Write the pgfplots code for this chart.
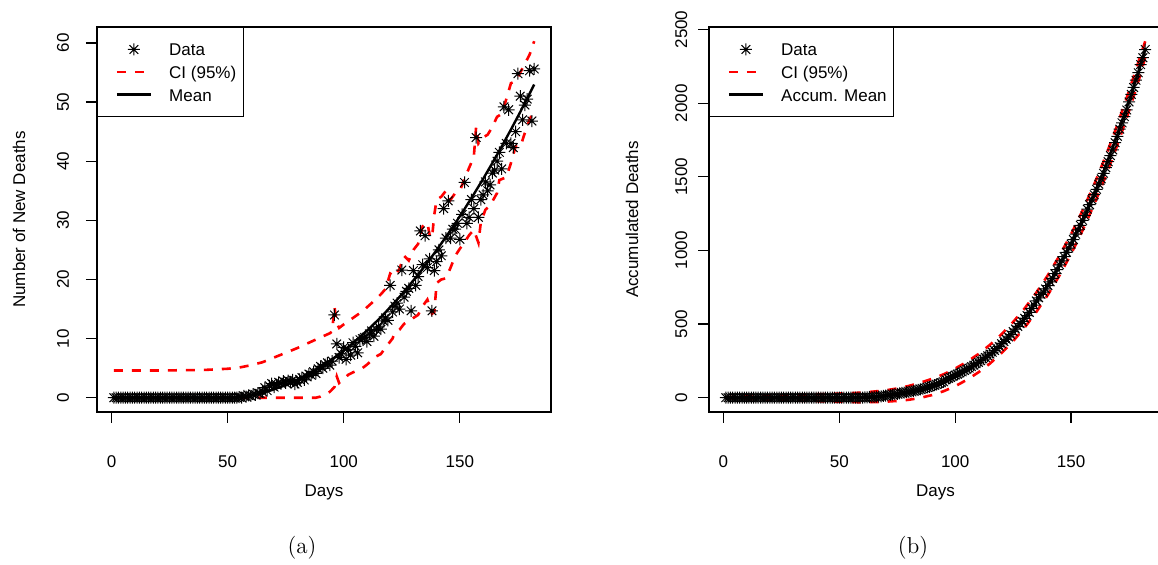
\documentclass[border=0pt]{standalone}
\usepackage{pgfplots}
\pgfplotsset{compat=1.18}
\usepackage{pgfplotstable}
\usepackage{fontspec}
\newfontfamily\rsans{Liberation Sans}
\definecolor{rred}{rgb}{1,0,0}

\pgfdeclareplotmark{rast}{%
  \pgfpathmoveto{\pgfqpoint{-\pgfplotmarksize}{0pt}}\pgfpathlineto{\pgfqpoint{\pgfplotmarksize}{0pt}}%
  \pgfpathmoveto{\pgfqpoint{0pt}{-\pgfplotmarksize}}\pgfpathlineto{\pgfqpoint{0pt}{\pgfplotmarksize}}%
  \pgfpathmoveto{\pgfqpoint{-0.72\pgfplotmarksize}{-0.72\pgfplotmarksize}}\pgfpathlineto{\pgfqpoint{0.72\pgfplotmarksize}{0.72\pgfplotmarksize}}%
  \pgfpathmoveto{\pgfqpoint{-0.72\pgfplotmarksize}{0.72\pgfplotmarksize}}\pgfpathlineto{\pgfqpoint{0.72\pgfplotmarksize}{-0.72\pgfplotmarksize}}%
  \pgfusepathqstroke}

% daily new deaths
\pgfplotstableread{
d v
1 0
2 0
3 0
4 0
5 0
6 0
7 0
8 0
9 0
10 0
11 0
12 0
13 0
14 0
15 0
16 0
17 0
18 0
19 0
20 0
21 0
22 0
23 0
24 0
25 0
26 0
27 0
28 0
29 0
30 0
31 0
32 0
33 0
34 0
35 0
36 0
37 0
38 0
39 0
40 0
41 0
42 0
43 0
44 0
45 0
46 0
47 0
48 0
49 0
50 0
51 0
52 0
53 0
54 0
55 0.1
56 0
57 0.3
58 0.2
59 0.4
60 0.3
61 0.6
62 0.5
63 0.8
64 0.7
65 1.0
66 1.7
67 1.2
68 2.0
69 2.4
70 1.8
71 2.2
72 2.6
73 2.4
74 2.8
75 2.5
76 2.9
77 2.7
78 3.0
79 2.3
80 2.6
81 3.1
82 3.4
83 3.0
84 3.6
85 4.0
86 3.8
87 4.4
88 4.1
89 4.9
90 5.3
91 5.0
92 5.6
93 5.9
94 5.5
95 6.2
96 14.0
97 9.1
98 6.8
99 7.4
100 8.5
101 6.5
102 8.1
103 7.2
104 9.3
105 8.7
106 7.6
107 9.8
108 10.0
109 10.2
110 9.5
111 10.8
112 11.3
113 10.4
114 11.5
115 12.0
116 11.6
117 13.0
118 13.5
119 13.1
120 19.0
121 14.5
122 15.5
123 16.0
124 15.0
125 21.6
126 17.0
127 18.0
128 18.5
129 14.7
130 21.5
131 19.0
132 20.5
133 28.2
134 22.5
135 27.4
136 22.0
137 23.5
138 14.7
139 21.5
140 23.0
141 25.0
142 24.0
143 32.0
144 27.0
145 33.3
146 27.0
147 28.5
148 28.5
149 29.5
150 26.8
151 31.0
152 36.4
153 29.5
154 30.5
155 33.5
156 32.0
157 44.0
158 30.5
159 33.5
160 34.3
161 36.5
162 35.0
163 36.0
164 38.0
165 38.5
166 40.0
167 41.5
168 38.7
169 49.2
170 43.0
171 48.7
172 43.0
173 42.3
174 45.0
175 54.8
176 51.0
177 47.0
178 49.5
179 50.5
180 55.3
181 46.8
182 55.6
}\newdata

\pgfplotstableread{
d v
1 0
48 0
52 0.05
56 0.19
60 0.42
64 0.76
68 1.18
72 1.70
76 2.31
80 3.02
84 3.82
88 4.72
92 5.71
96 6.80
100 7.98
104 9.25
108 10.62
112 12.08
116 13.64
120 15.29
124 17.04
128 18.88
132 20.82
136 22.84
140 24.97
144 27.19
148 29.50
152 31.91
156 34.41
160 37.00
164 39.70
168 42.48
172 45.36
176 48.33
180 51.40
182 52.97
}\newmean

\pgfplotstableread{
d v
1 4.6
20 4.6
40 4.7
50 4.9
55 5.1
60 5.5
65 6.0
70 6.8
75 7.6
80 8.4
85 9.3
90 10.2
94 10.9
95 11.2
96 15.4
97 12.6
98 11.8
100 12.4
104 13.5
108 14.6
112 16.0
116 17.5
118 18.4
120 21.0
122 20.5
124 21.8
126 24.0
128 23.2
130 25.0
132 26.0
134 29.0
136 29.6
137 27.5
138 27.0
139 31.0
140 33.5
142 34.0
144 35.0
146 33.5
148 34.6
150 35.0
152 37.0
154 38.9
156 40.7
157 45.8
158 43.0
160 44.0
162 44.5
164 45.8
166 47.5
168 48.0
170 50.5
172 53.2
174 53.5
176 55.0
178 56.5
180 58.0
182 60.3
}\newupper

\pgfplotstableread{
d v
1 0
88 0
90 0.2
92 0.6
94 1.0
95 1.4
96 1.8
97 3.6
98 2.5
100 3.2
102 3.9
104 4.3
106 4.6
108 5.0
110 5.6
112 6.3
114 7.0
116 7.4
118 8.5
120 9.5
121 10.0
122 11.0
124 11.5
126 12.5
128 13.0
130 13.5
132 14.0
134 15.5
136 16.6
138 14.2
139 14.5
140 19.4
142 20.0
144 20.2
146 22.0
148 24.0
150 25.2
152 26.3
154 27.5
156 28.4
158 26.2
159 29.6
161 31.8
163 32.5
166 34.6
167 36.8
170 37.3
172 39.7
174 42.5
176 42.4
178 44.8
180 47.0
182 48.7
}\newlower

% accumulated deaths
\pgfplotstableread{
d v
1 0
2 0
3 0
4 0
5 0
6 0
7 0
8 0
9 0
10 0
11 0
12 0
13 0
14 0
15 0
16 0
17 0
18 0
19 0
20 0
21 0
22 0
23 0
24 0
25 0
26 0
27 0
28 0
29 0
30 0
31 0
32 0
33 0
34 0
35 0
36 0
37 0
38 0
39 0
40 0
41 0
42 0
43 0
44 0
45 0
46 0
47 0
48 0
49 0
50 0
51 0
52 0
53 0
54 0
55 0.1
56 0.1
57 0.4
58 0.6
59 1.0
60 1.3
61 1.9
62 2.4
63 3.2
64 3.9
65 4.9
66 6.6
67 7.8
68 9.8
69 12.2
70 14.0
71 16.2
72 18.8
73 21.2
74 24.0
75 26.5
76 29.4
77 32.1
78 35.1
79 37.4
80 40.0
81 43.1
82 46.5
83 49.5
84 53.1
85 57.1
86 60.9
87 65.3
88 69.4
89 74.3
90 79.6
91 84.6
92 90.2
93 96.1
94 101.6
95 107.8
96 121.8
97 130.9
98 137.7
99 145.1
100 153.6
101 160.1
102 168.2
103 175.4
104 184.7
105 193.4
106 201.0
107 210.8
108 220.8
109 231.0
110 240.5
111 251.3
112 262.6
113 273.0
114 284.5
115 296.5
116 308.1
117 321.1
118 334.6
119 347.7
120 366.7
121 381.2
122 396.7
123 412.7
124 427.7
125 449.3
126 466.3
127 484.3
128 502.8
129 517.5
130 539.0
131 558.0
132 578.5
133 606.7
134 629.2
135 656.6
136 678.6
137 702.1
138 716.8
139 738.3
140 761.3
141 786.3
142 810.3
143 842.3
144 869.3
145 902.6
146 929.6
147 958.1
148 986.6
149 1016.1
150 1042.9
151 1073.9
152 1110.3
153 1139.8
154 1170.3
155 1203.8
156 1235.8
157 1279.8
158 1310.3
159 1343.8
160 1378.1
161 1414.6
162 1449.6
163 1485.6
164 1523.6
165 1562.1
166 1602.1
167 1643.6
168 1682.3
169 1731.5
170 1774.5
171 1823.2
172 1866.2
173 1908.5
174 1953.5
175 2008.3
176 2059.3
177 2106.3
178 2155.8
179 2206.3
180 2261.6
181 2308.4
182 2364.0
}\accdata

\pgfplotstableread{
d v up lo
1 0 3 -3
10 0 10 -10
20 0 15 -15
30 0 19 -19
40 0 23 -23
50 0 28 -28
55 0.3 31 -30
60 1.7 35 -31
65 4.8 42 -30
70 10.5 50 -27
75 19.3 63 -22
80 32.2 80 -14
85 49.8 102 -1
90 72.8 128 18
95 102.0 159 44
100 138.2 198 78
105 182.0 243 121
110 234.3 296 172
115 295.6 359 232
120 366.9 431 303
125 448.8 514 384
130 542.0 607 477
135 647.3 713 582
140 765.4 832 699
145 897.2 964 830
150 1043.2 1110 976
155 1204.2 1272 1137
160 1381.0 1449 1313
165 1574.3 1642 1506
170 1785.0 1853 1717
175 2013.6 2082 1946
180 2260.9 2325 2197
182 2365.2 2420 2312
}\accmean

\begin{document}
\begin{tikzpicture}[x=1pt,y=1pt]
\pgfplotsset{
  rpanel/.style={
    scale only axis, width=227pt, height=192.5pt,
    axis line style={line width=0.6pt},
    xmin=-6.24, xmax=189.24,
    xtick={0,50,100,150},
    xtick pos=left, ytick pos=left,
    tick align=outside, major tick length=5.5pt,
    tick style={black, line width=0.6pt},
    scaled ticks=false,
    /pgf/number format/assume math mode=true,
    /pgf/number format/1000 sep={},
    tick label style={font=\fontsize{8.5}{10}\rsans},
    xticklabel style={anchor=base, yshift=-22.5pt},
    every axis x label/.style={at={(axis description cs:0.5,0)}, anchor=base, yshift=-42.5pt, font=\fontsize{8.5}{10}\rsans},
    legend cell align=left,
    legend style={at={(0,1)}, anchor=north west, draw=black, line width=0.6pt,
      font=\fontsize{8.5}{10}\rsans, inner xsep=3.5pt, inner ysep=5.3pt,
      row sep=0pt, column sep=8.5pt,
      nodes={inner xsep=0pt, inner ysep=1.4pt, text height=7.5pt, text depth=1pt}},
  },
  datastyle/.style={only marks, mark=rast, mark size=3pt, mark options={line width=0.5pt, black},
    legend image code/.code={\path (-5.5pt,0pt); \draw[##1, mark repeat=2, mark phase=2] plot coordinates {(0pt,0pt) (8.5pt,0pt) (17pt,0pt)};}},
  cistyle/.style={rred, line width=1.3pt, dash pattern=on 4.5pt off 4.5pt, no marks,
    legend image code/.code={\path (-5.5pt,0pt); \draw[##1] (0pt,0pt) -- (17pt,0pt);}},
  meanstyle/.style={black, line width=1.2pt, no marks,
    legend image code/.code={\path (-5.5pt,0pt); \draw[##1] (0pt,0pt) -- (17pt,0pt);}},
}
\begin{axis}[rpanel, at={(48.5pt,76.5pt)}, anchor=south west,
  ymin=-2.41, ymax=62.7, ytick={0,10,20,30,40,50,60},
  yticklabel style={xshift=-8.5pt, rotate=90, anchor=base},
  every axis y label/.style={at={(axis description cs:0,0.5)}, xshift=-36pt, rotate=90, anchor=base, font=\fontsize{8.5}{10}\rsans},
  xlabel={Days}, ylabel={Number of New Deaths}]
\addplot[datastyle] table[x=d,y=v] {\newdata};
\addlegendentry{Data}
\addplot[cistyle] table[x=d,y=v] {\newupper};
\addlegendentry{CI (95\%)}
\addplot[cistyle, forget plot] table[x=d,y=v] {\newlower};
\addplot[meanstyle] table[x=d,y=v] {\newmean};
\addlegendentry{Mean}
\end{axis}

\begin{axis}[rpanel, at={(354.5pt,76.5pt)}, anchor=south west, width=226.5pt,
  ymin=-97, ymax=2517, ytick={0,500,1000,1500,2000,2500},
  yticklabel style={xshift=-5.5pt, rotate=90, anchor=base},
  every axis y label/.style={at={(axis description cs:0,0.5)}, xshift=-35.5pt, rotate=90, anchor=base, font=\fontsize{8.5}{10}\rsans},
  xlabel={Days}, ylabel={Accumulated Deaths}]
\addplot[datastyle] table[x=d,y=v] {\accdata};
\addlegendentry{Data}
\addplot[cistyle] table[x=d,y=up] {\accmean};
\addlegendentry{CI (95\%)}
\addplot[cistyle, forget plot] table[x=d,y=lo] {\accmean};
\addplot[meanstyle] table[x=d,y=v] {\accmean};
\addlegendentry{Accum. Mean}
\end{axis}

\node[font=\fontsize{11.5}{13}\selectfont] at (151,8.5) {(a)};
\node[font=\fontsize{11.5}{13}\selectfont] at (456.5,8.5) {(b)};
\pgfresetboundingbox
\useasboundingbox (0,0) rectangle (579,282.5);
\end{tikzpicture}
\end{document}
